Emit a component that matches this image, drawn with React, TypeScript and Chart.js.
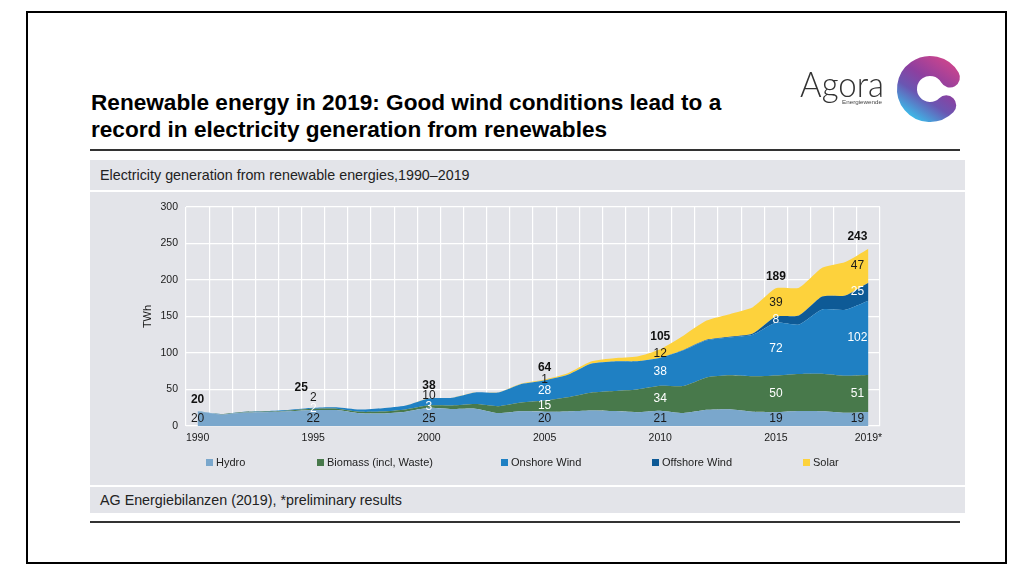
import React, { useEffect, useRef } from 'react';
import { Chart, registerables } from 'chart.js';

Chart.register(...registerables);

// ---------- data ----------
const years = [
  '1990', '1991', '1992', '1993', '1994', '1995', '1996', '1997', '1998', '1999',
  '2000', '2001', '2002', '2003', '2004', '2005', '2006', '2007', '2008', '2009',
  '2010', '2011', '2012', '2013', '2014', '2015', '2016', '2017', '2018', '2019',
];
const tickYears = ['1990', '1995', '2000', '2005', '2010', '2015', '2019'];
const tickTexts = ['1990', '1995', '2000', '2005', '2010', '2015', '2019*'];
const labelYears = ['1990', '1995', '2000', '2005', '2010', '2015', '2019'];

const seriesNames = ['Hydro', 'Biomass (incl, Waste)', 'Onshore Wind', 'Offshore Wind', 'Solar'];

const hydro = [
  19.7, 15.9, 18.6, 19.0, 20.2, 21.8, 21.8, 17.4, 17.2, 19.6,
  24.9, 23.2, 23.7, 17.7, 20.1, 19.6, 20.0, 21.2, 20.4, 19.0,
  21.0, 17.7, 22.1, 23.0, 19.6, 19.0, 20.5, 20.2, 18.0, 19.2,
];
const biomass = [
  0.3, 0.5, 0.7, 0.9, 1.2, 1.7, 1.9, 2.1, 2.6, 3.0,
  3.4, 5.0, 6.5, 9.5, 12.0, 15.3, 19.5, 24.5, 27.5, 31.0,
  34.0, 37.0, 44.5, 46.5, 48.5, 50.3, 50.9, 51.4, 50.8, 50.6,
];
const onshoreWind = [
  0.07, 0.1, 0.3, 0.6, 0.9, 1.5, 2.0, 3.0, 4.5, 5.5,
  9.5, 10.5, 15.8, 18.7, 25.5, 27.6, 30.7, 39.7, 40.6, 38.6,
  38.4, 48.9, 50.7, 51.8, 57.0, 72.3, 67.7, 88.0, 90.5, 101.8,
];
const offshoreWind = [
  0, 0, 0, 0, 0, 0, 0, 0, 0, 0,
  0, 0, 0, 0, 0, 0, 0, 0, 0, 0.04,
  0.2, 0.6, 0.7, 0.9, 1.5, 8.3, 12.3, 17.7, 19.5, 24.7,
];
const solar = [
  0, 0, 0, 0, 0, 0, 0, 0, 0, 0,
  0.06, 0.1, 0.2, 0.3, 0.6, 1.3, 2.2, 3.1, 4.4, 6.6,
  11.7, 19.6, 26.4, 31.0, 36.1, 38.7, 38.1, 39.4, 45.8, 46.6,
];

const yMin = 0;
const yMax = 300;
const yStep = 50;

// ---------- styles ----------
const seriesColors = ['#7aa7cc', '#48794b', '#1f80c3', '#0e5a96', '#fdd23c'];
const labelColors = ['#1a1a1a', '#ffffff', '#ffffff', '#ffffff', '#1a1a1a'];
const darkWhenSmall = [false, false, true, false, false];
const panelGray = '#e3e4e9';
const SANS = "'Liberation Sans', Arial, sans-serif";
const NARROW = "'Liberation Sans Narrow', 'Arial Narrow', 'Liberation Sans', Arial, sans-serif";

const legendLeft = [116, 227, 411, 562, 713];

const valueLabelPlugin = {
  id: 'valueLabels',
  afterDatasetsDraw(chart: any) {
    const ctx = chart.ctx;
    const xs = chart.scales.x;
    const ys = chart.scales.y;
    const series = [hydro, biomass, onshoreWind, offshoreWind, solar];
    const gap = 10.5;
    ctx.save();
    ctx.textAlign = 'center';
    ctx.textBaseline = 'middle';
    labelYears.forEach((yr) => {
      const i = years.indexOf(yr);
      const isLast = i === years.length - 1;
      const x = xs.getPixelForValue(i) + (isLast ? -11 : 0);
      const base = ys.getPixelForValue(0);
      let cum = 0;
      let prevY = Infinity;
      series.forEach((arr, s) => {
        const v = arr[i];
        const lo = cum;
        cum += v;
        if (Math.round(v) < 1) return;
        let y = s === 0 ? base - 7 : ys.getPixelForValue((lo + cum) / 2);
        y = Math.min(y, prevY - gap);
        const bandPx = ys.getPixelForValue(lo) - ys.getPixelForValue(cum);
        ctx.fillStyle = darkWhenSmall[s] && bandPx < 10 ? '#1a1a1a' : labelColors[s];
        ctx.font = `12px ${NARROW}`;
        ctx.fillText(String(Math.round(v)), x, y);
        prevY = y;
      });
      const ty = Math.min(ys.getPixelForValue(cum) - 12, prevY - gap);
      ctx.fillStyle = '#111';
      ctx.font = `bold 12px ${NARROW}`;
      ctx.fillText(String(Math.round(cum)), x + (yr === '1995' ? -12 : 0), ty);
    });
    ctx.restore();
  },
};

function RenewablesChart() {
  const ref = useRef<HTMLCanvasElement | null>(null);
  useEffect(() => {
    if (!ref.current) return;
    const all = [hydro, biomass, onshoreWind, offshoreWind, solar];
    const chart = new Chart(ref.current, {
      type: 'line',
      data: {
        labels: years,
        datasets: all.map((arr, s) => ({
          label: seriesNames[s],
          data: arr,
          backgroundColor: seriesColors[s],
          borderColor: seriesColors[s],
          borderWidth: 0,
          pointRadius: 0,
          tension: 0.2,
          fill: s === 0 ? 'origin' : '-1',
        })),
      },
      options: {
        animation: false,
        responsive: false,
        events: [],
        layout: { padding: { left: 50, right: 85, top: 15, bottom: 39 } },
        plugins: {
          legend: { display: false },
          tooltip: { enabled: false },
        },
        scales: {
          x: {
            type: 'category',
            offset: true,
            grid: { color: '#ffffff', lineWidth: 1.2, offset: true, drawTicks: false },
            border: { display: false },
            ticks: {
              autoSkip: false,
              maxRotation: 0,
              padding: 6,
              color: '#1a1a1a',
              font: { family: SANS, size: 10.5 },
              callback: (_v: any, idx: number) => {
                const k = tickYears.indexOf(years[idx]);
                return k >= 0 ? tickTexts[k] : '';
              },
            },
            afterFit: (s: any) => {
              s.height = 20;
            },
          },
          y: {
            stacked: true,
            min: yMin,
            max: yMax,
            grid: { color: '#ffffff', lineWidth: 1.2, drawTicks: false },
            border: { display: false },
            ticks: {
              stepSize: yStep,
              padding: 8,
              color: '#1a1a1a',
              font: { family: SANS, size: 10.5 },
            },
            title: {
              display: true,
              text: 'TWh',
              color: '#1a1a1a',
              font: { family: SANS, size: 11 },
              padding: { top: 1, bottom: 0 },
            },
            afterFit: (s: any) => {
              s.width = 46;
            },
          },
        },
      },
      plugins: [valueLabelPlugin],
    } as any);
    return () => chart.destroy();
  }, []);
  return <canvas ref={ref} width={875} height={293} style={{ width: 875, height: 293, display: 'block' }} />;
}

export default function App() {
  const abs = (l: number, t: number, w: number, h: number, extra: any = {}) => ({
    position: 'absolute' as const,
    left: l,
    top: t,
    width: w,
    height: h,
    ...extra,
  });
  return (
    <div style={{ ...abs(0, 0, 1024, 576), background: '#fff', fontFamily: SANS, overflow: 'hidden' }}>
      <div style={abs(26, 11, 981, 553, { border: '2px solid #000', boxSizing: 'border-box' })} />
      <div style={abs(91, 89, 720, 60, { fontWeight: 'bold', fontSize: 22.6, lineHeight: '27px', color: '#000' })}>
        Renewable energy in 2019: Good wind conditions lead to a
        <br />
        record in electricity generation from renewables
      </div>
      <div style={abs(90, 149, 870, 2, { background: '#333' })} />
      <div style={abs(90, 160, 875, 30, { background: panelGray, fontSize: 14.3, lineHeight: '30px', color: '#222' })}>
        <span style={{ marginLeft: 10 }}>Electricity generation from renewable energies,1990–2019</span>
      </div>
      <div style={abs(90, 192, 875, 293, { background: panelGray })}>
        <RenewablesChart />
        {seriesNames.map((n, s) => (
          <div key={n} style={abs(legendLeft[s], 262, 160, 16, { display: 'flex', alignItems: 'center' })}>
            <span style={{ width: 7, height: 7, background: seriesColors[s], display: 'inline-block', marginRight: 3 }} />
            <span style={{ fontSize: 11, color: '#222', whiteSpace: 'nowrap' }}>{n}</span>
          </div>
        ))}
      </div>
      <div style={abs(90, 487, 875, 26, { background: panelGray, fontSize: 14.3, lineHeight: '26px', color: '#222' })}>
        <span style={{ marginLeft: 10 }}>AG Energiebilanzen (2019), *preliminary results</span>
      </div>
      <div style={abs(90, 521, 870, 2, { background: '#333' })} />
      <svg style={abs(0, 0, 1024, 576, { pointerEvents: 'none' })} width={1024} height={576}>
        <defs>
          <linearGradient id="agoraGrad" gradientUnits="userSpaceOnUse" x1="958" y1="60" x2="918" y2="120">
            <stop offset="0" stopColor="#d8468a" />
            <stop offset="0.45" stopColor="#8d3f9f" />
            <stop offset="0.7" stopColor="#6a56b2" />
            <stop offset="1" stopColor="#3fb5e6" />
          </linearGradient>
        </defs>
        <text x={800} y={97} fontFamily="Lato, 'Open Sans', sans-serif" fontWeight={300} fontSize={35} fill="#333" textLength={84} lengthAdjust="spacingAndGlyphs">
          Agora
        </text>
        <text x={842} y={103.5} fontFamily={SANS} fontSize={6} fill="#444" textLength={40} lengthAdjust="spacingAndGlyphs">
          Energiewende
        </text>
        <path
          d="M 946.26 105.26 A 23 23 0 1 1 949.92 77.5"
          fill="none"
          stroke="url(#agoraGrad)"
          strokeWidth={20}
          strokeLinecap="round"
        />
      </svg>
    </div>
  );
}
